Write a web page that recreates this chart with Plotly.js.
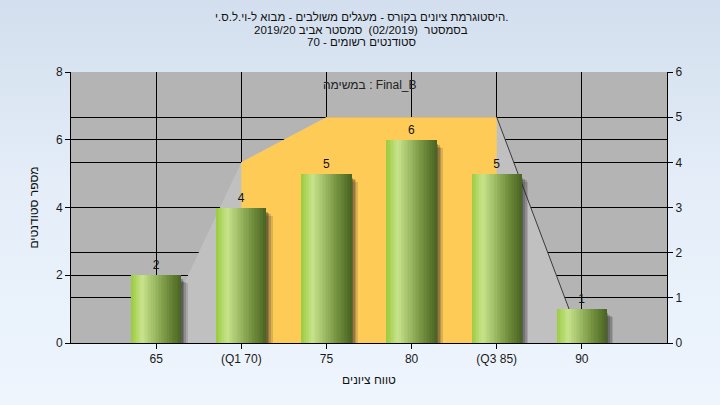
<!DOCTYPE html>
<html><head><meta charset="utf-8">
<script src="https://cdn.plot.ly/plotly-3.0.1.min.js"></script>
<style>
html,body{margin:0;padding:0;}
body{width:720px;height:405px;background:linear-gradient(to bottom,#d3dfee 0%,#e4edf8 45%,#eef5fd 100%);}
#chart{width:720px;height:405px;}
</style></head><body><div id="chart"></div>
<script>
const categories = ['65', '(Q1 70)', '75', '80', '(Q3 85)', '90'];
const counts = [2, 4, 5, 6, 5, 1];
const curve = [0, 4, 5, 5, 5, 0];
const q1Index = 1;
const q3Index = 4;
const titleLines = [
  'היסטוגרמת ציונים בקורס - מעגלים משולבים - מבוא ל-וי.ל.ס.י.',
  'בסמסטר  (02/2019)  סמסטר אביב 2019/20',
  'סטודנטים רשומים - 70'
];
const taskLabel = 'במשימה : Final_B';
const xTitle = 'טווח ציונים';
const yTitle = 'מספר סטודנטים';
const leftTicks = [0, 2, 4, 6, 8];
const rightTicks = [0, 1, 2, 3, 4, 5, 6];

const FONT = 'Liberation Sans, Arial, DejaVu Sans, sans-serif';
const barW = 0.59;
const N = 32;
const stops = [[0, [154, 203, 60]], [0.22, [200, 227, 140]], [0.45, [160, 190, 102]], [0.72, [114, 143, 62]], [1, [72, 98, 34]]];
function colorAt(t) {
  for (let i = 1; i < stops.length; i++) {
    if (t <= stops[i][0]) {
      const a = stops[i - 1], b = stops[i];
      const f = (t - a[0]) / (b[0] - a[0]);
      const c = a[1].map((v, k) => Math.round(v + (b[1][k] - v) * f));
      return 'rgb(' + c.join(',') + ')';
    }
  }
  return 'rgb(' + stops[stops.length - 1][1].join(',') + ')';
}

const traces = [];
// distribution polygon (right axis)
traces.push({type: 'scatter', x: categories, y: curve, yaxis: 'y', mode: 'lines',
  line: {width: 0, color: '#c0c0c0'}, fill: 'tozeroy', fillcolor: '#c0c0c0', hoverinfo: 'skip'});
traces.push({type: 'scatter', x: categories.slice(q1Index, q3Index + 1), y: curve.slice(q1Index, q3Index + 1), yaxis: 'y', mode: 'lines',
  line: {width: 0, color: '#fecb56'}, fill: 'tozeroy', fillcolor: '#fecb56', hoverinfo: 'skip'});
traces.push({type: 'scatter', x: categories.slice(q3Index), y: curve.slice(q3Index), yaxis: 'y', mode: 'lines',
  line: {width: 1, color: '#3a3a3a'}, hoverinfo: 'skip'});
// soft shadows
[[0.075, -0.24, 0.16], [0.055, -0.2, 0.2], [0.035, -0.16, 0.25], [0.015, -0.12, 0.3]].forEach(s => {
  traces.push({type: 'bar', x: categories, y: counts, yaxis: 'y2', base: s[1], width: barW, offset: -barW / 2 + s[0],
    marker: {color: 'rgba(40,40,40,' + s[2] + ')', line: {width: 0}}, hoverinfo: 'skip'});
});
// gradient bars
for (let i = 0; i < N; i++) {
  const start = -barW / 2 + i * barW / N;
  traces.push({type: 'bar', x: categories, y: counts, yaxis: 'y2', width: barW - i * barW / N, offset: start,
    marker: {color: colorAt((i + 0.5) / N), line: {width: 0}}, hoverinfo: 'skip'});
}
// labels
traces.push({type: 'bar', x: categories, y: counts, yaxis: 'y2', width: barW, text: counts.map(String),
  textposition: 'outside', textfont: {family: FONT, size: 12, color: '#111'}, cliponaxis: false,
  marker: {color: 'rgba(0,0,0,0)', line: {width: 0}}, hoverinfo: 'skip'});

const axisCommon = {showline: true, linecolor: '#000', linewidth: 1, ticks: 'outside', ticklen: 5, tickcolor: '#000',
  showgrid: true, gridcolor: '#000', gridwidth: 1, zeroline: false, tickfont: {family: FONT, size: 12, color: '#1a1a1a'}};

const annotations = titleLines.map((t, i) => ({text: t, xref: 'paper', yref: 'paper', x: 0.487, y: (343 - (17 + i * 12.5)) / 271,
  xanchor: 'center', yanchor: 'middle', showarrow: false, font: {family: FONT, size: 11.5, color: '#111'}}));
annotations.push({text: taskLabel, xref: 'paper', yref: 'paper', x: (370 - 71) / 596, y: (343 - 85) / 271,
  xanchor: 'center', yanchor: 'middle', showarrow: false, font: {family: FONT, size: 12, color: '#222'}});

const layout = {
  width: 720, height: 405,
  margin: {l: 71, r: 53, t: 72, b: 62},
  paper_bgcolor: 'rgba(0,0,0,0)', plot_bgcolor: '#b4b4b4',
  barmode: 'overlay', bargap: 0, showlegend: false,
  xaxis: Object.assign({}, axisCommon, {type: 'category', categoryorder: 'array', categoryarray: categories, range: [-1, 6],
    title: {text: xTitle, font: {family: FONT, size: 12, color: '#111'}, standoff: 10}}),
  yaxis: Object.assign({}, axisCommon, {side: 'right', range: [0, 6], tickvals: rightTicks}),
  yaxis2: Object.assign({}, axisCommon, {side: 'left', overlaying: 'y', range: [0, 8], tickvals: leftTicks,
    title: {text: yTitle, font: {family: FONT, size: 12, color: '#111'}, standoff: 14}}),
  annotations: annotations
};
Plotly.newPlot('chart', traces, layout, {displayModeBar: false, staticPlot: true});
</script></body></html>
